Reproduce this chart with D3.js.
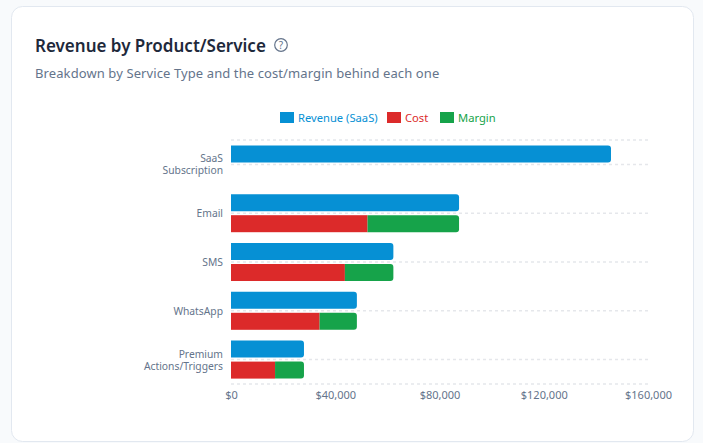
<!DOCTYPE html>
<html>
<head>
<meta charset="utf-8">
<script src="https://cdn.jsdelivr.net/npm/d3@7"></script>
<style>
html, body { margin: 0; padding: 0; background: #f8fafc; overflow: hidden; }
svg { display: block; font-family: "Noto Sans", sans-serif; }
</style>
</head>
<body>
<div id="chart"></div>
<script>
// values
var categories = ["SaaS Subscription", "Email", "SMS", "WhatsApp", "Premium Actions/Triggers"];
var categoryLines = [["SaaS", "Subscription"], ["Email"], ["SMS"], ["WhatsApp"], ["Premium", "Actions/Triggers"]];
var revenue = [145800, 87500, 62300, 48300, 28000];
var cost = [0, 52400, 43700, 34000, 16900];
var margin_ = [0, 35100, 18600, 14300, 11100];
var xTicks = [0, 40000, 80000, 120000, 160000];
var legendLabels = ["Revenue (SaaS)", "Cost", "Margin"];
var legendColors = ["#0690d4", "#dc2a2a", "#16a34a"];

var width = 703;
var height = 443;

var svg = d3.select("#chart").append("svg")
    .attr("width", width)
    .attr("height", height);

// card
svg.append("rect")
    .attr("x", 11.5).attr("y", 6.5)
    .attr("width", 682).attr("height", 435)
    .attr("rx", 11)
    .attr("fill", "#fff")
    .attr("stroke", "#e2e8f0");

svg.append("text")
    .attr("x", 35).attr("y", 52)
    .attr("font-size", 17).attr("font-weight", 600)
    .attr("fill", "#1e293b")
    .text("Revenue by Product/Service");

// help icon
svg.append("circle")
    .attr("cx", 281).attr("cy", 45).attr("r", 6.3)
    .attr("fill", "none").attr("stroke", "#64748b").attr("stroke-width", 1.2);
svg.append("text")
    .attr("x", 281).attr("y", 49)
    .attr("text-anchor", "middle")
    .attr("font-size", 10).attr("fill", "#64748b")
    .text("?");

svg.append("text")
    .attr("x", 35).attr("y", 78)
    .attr("font-size", 13).attr("fill", "#64748b")
    .attr("letter-spacing", 0.1)
    .text("Breakdown by Service Type and the cost/margin behind each one");

// scales
var xScale = d3.scaleLinear().domain([0, 160000]).range([231, 648]);
var yScale = d3.scaleBand().domain(categories).range([140, 384]);
var inner = d3.scaleBand().domain(["revenue", "split"])
    .range([0, yScale.bandwidth()])
    .paddingInner(0.19)
    .paddingOuter(0.257);

// grid lines at band edges/centres
var gridY = [140, 384].concat(categories.map(function(c) {
    return yScale(c) + yScale.bandwidth() / 2;
}));
svg.append("g").selectAll("line").data(gridY).enter().append("line")
    .attr("x1", 231).attr("x2", 648)
    .attr("y1", function(d) { return d; })
    .attr("y2", function(d) { return d; })
    .attr("stroke", "#e5e7eb")
    .attr("stroke-width", 1.5)
    .attr("stroke-dasharray", "3 3");

// bar with rounded right end only
function barPath(x0, x1, y, h, r) {
    var p = d3.path();
    p.moveTo(x0, y);
    p.lineTo(x1 - r, y);
    p.quadraticCurveTo(x1, y, x1, y + r);
    p.lineTo(x1, y + h - r);
    p.quadraticCurveTo(x1, y + h, x1 - r, y + h);
    p.lineTo(x0, y + h);
    p.closePath();
    return p.toString();
}

var bars = svg.append("g");
var h = inner.bandwidth();

categories.forEach(function(c, i) {
    var y0 = yScale(c);
    bars.append("path")
        .attr("d", barPath(xScale(0), xScale(revenue[i]), y0 + inner("revenue"), h, 3))
        .attr("fill", legendColors[0]);
    if (cost[i] > 0) {
        bars.append("rect")
            .attr("x", xScale(0))
            .attr("y", y0 + inner("split"))
            .attr("width", xScale(cost[i]) - xScale(0))
            .attr("height", h)
            .attr("fill", legendColors[1]);
        bars.append("path")
            .attr("d", barPath(xScale(cost[i]), xScale(cost[i] + margin_[i]), y0 + inner("split"), h, 3))
            .attr("fill", legendColors[2]);
    }
});

// category labels, two line ones as tspans
var catLabels = svg.append("g");
categories.forEach(function(c, i) {
    var lines = categoryLines[i];
    var mid = yScale(c) + yScale.bandwidth() / 2;
    var label = catLabels.append("text")
        .attr("text-anchor", "end")
        .attr("font-size", 10.3)
        .attr("fill", "#64748b");
    lines.forEach(function(line, j) {
        label.append("tspan")
            .attr("x", 223)
            .attr("y", mid + 4 + (j - (lines.length - 1) / 2) * 12)
            .text(line);
    });
});

// x axis
var xAxis = d3.axisBottom(xScale)
    .tickValues(xTicks)
    .tickSize(0)
    .tickPadding(0)
    .tickFormat(function(d) { return "$" + d3.format(",")(d); });
var axisG = svg.append("g")
    .attr("transform", "translate(0,391)")
    .call(xAxis);
axisG.select(".domain").remove();
axisG.selectAll("text")
    .attr("font-family", "\"Noto Sans\", sans-serif")
    .attr("font-size", 11)
    .attr("fill", "#64748b");

// legend
var legendX = [280, 387, 440];
var legend = svg.append("g");
legendLabels.forEach(function(label, i) {
    legend.append("rect")
        .attr("x", legendX[i]).attr("y", 112)
        .attr("width", 14).attr("height", 11)
        .attr("fill", legendColors[i]);
    legend.append("text")
        .attr("x", legendX[i] + 18).attr("y", 122)
        .attr("font-size", 11.2)
        .attr("fill", legendColors[i])
        .text(label);
});
</script>
</body>
</html>
